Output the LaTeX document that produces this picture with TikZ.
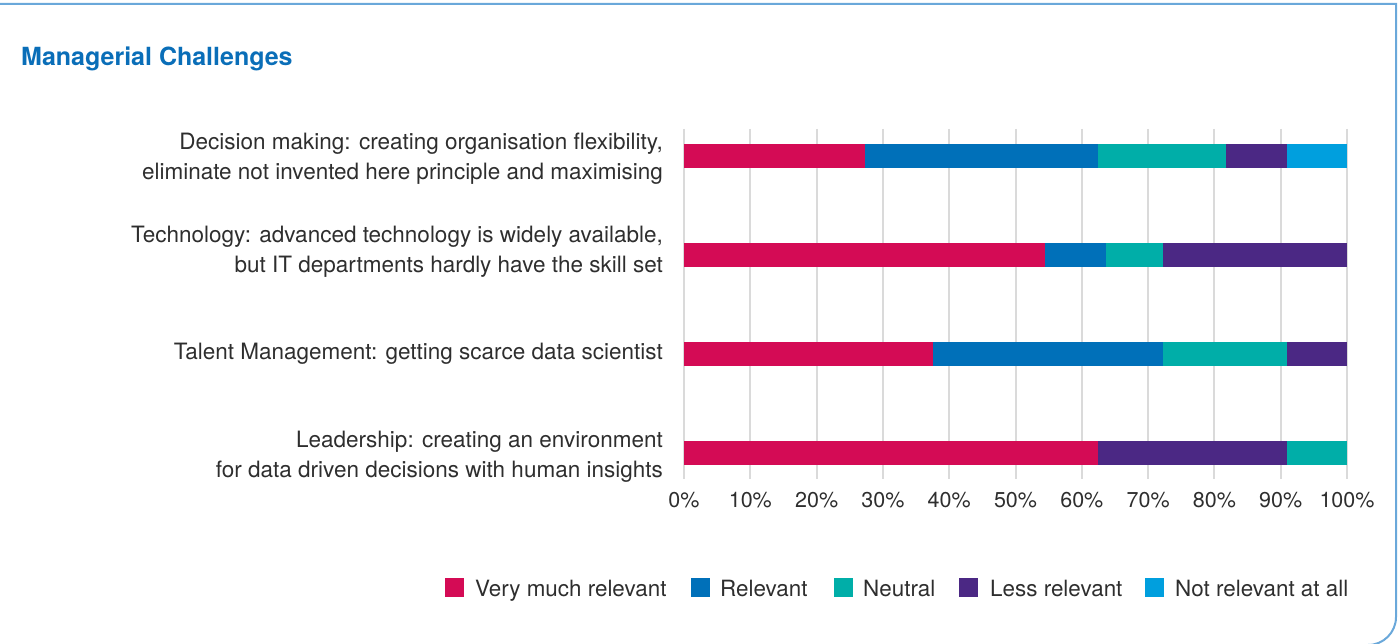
\documentclass[tikz,border=0pt]{standalone}
\usepackage{fontspec}
\setmainfont{TeX Gyre Heros}
\definecolor{vpink}{HTML}{D40B55}
\definecolor{vblue}{HTML}{0070B9}
\definecolor{vteal}{HTML}{00AEA8}
\definecolor{vpurple}{HTML}{4B2884}
\definecolor{vlight}{HTML}{009FDE}
\definecolor{frame}{HTML}{6AA8DA}
\definecolor{titleblue}{HTML}{0A6EB8}
\definecolor{txt}{HTML}{2E2E2E}
\definecolor{gridc}{HTML}{DADADA}
\tikzset{
  framestyle/.style={draw=frame,line width=2pt},
  gridline/.style={draw=gridc,line width=2pt},
  lbl/.style={anchor=east,align=right,text=txt,font=\fontsize{22.5}{30}\selectfont,inner sep=0pt},
  ticklbl/.style={anchor=base,text=txt,font=\fontsize{21.5}{25}\selectfont,inner sep=0pt},
  legtxt/.style={anchor=base west,text=txt,font=\fontsize{22.4}{25}\selectfont,inner sep=0pt},
  legbox/.style={minimum width=19pt,minimum height=19pt,inner sep=0pt,anchor=west},
}
\newcommand{\segm}[4]{\fill[#4] (684+6.63*#2,#1-12) rectangle (684+6.63*#3,#1+12);}
\begin{document}
\begin{tikzpicture}[x=1pt,y=-1pt]
\useasboundingbox (0,0) rectangle (1399,644);
% frame
\draw[framestyle] (0,4) -- (1396,4) [rounded corners=28pt] -- (1396,645) -- (1200,645);
% title
\node[anchor=base west,inner sep=0pt,text=titleblue,font=\fontsize{25}{30}\selectfont\bfseries] (title) at (21,66) {Managerial Challenges};
% grid and ticks
\foreach \k in {0,...,10}{
  \draw[gridline] (684+66.3*\k,129) -- (684+66.3*\k,479);
  \pgfmathtruncatemacro{\pc}{10*\k}
  \node[ticklbl] (tick\k) at (684+66.3*\k,507) {\pc\%};
}
% bars
\segm{156}{0}{27.3}{vpink}
\segm{156}{27.3}{62.5}{vblue}
\segm{156}{62.5}{81.8}{vteal}
\segm{156}{81.8}{90.9}{vpurple}
\segm{156}{90.9}{100}{vlight}
\segm{255}{0}{54.5}{vpink}
\segm{255}{54.5}{63.6}{vblue}
\segm{255}{63.6}{72.2}{vteal}
\segm{255}{72.2}{100}{vpurple}
\segm{354}{0}{37.5}{vpink}
\segm{354}{37.5}{72.2}{vblue}
\segm{354}{72.2}{90.9}{vteal}
\segm{354}{90.9}{100}{vpurple}
\segm{453}{0}{62.5}{vpink}
\segm{453}{62.5}{90.9}{vpurple}
\segm{453}{90.9}{100}{vteal}
% labels
\node[lbl] (l1) at (663,159) {Decision making: creating organisation flexibility,\\eliminate not invented here principle and maximising};
\node[lbl] (l2) at (663,252) {Technology: advanced technology is widely available,\\but IT departments hardly have the skill set};
\node[lbl] (l3) at (663,354) {Talent Management: getting scarce data scientist};
\node[lbl] (l4) at (663,457) {Leadership: creating an environment\\for data driven decisions with human insights};
% legend
\node[legbox,fill=vpink] (k1) at (445,587.5) {};
\node[legtxt] (t1) at (475,596) {Very much relevant};
\node[legbox,fill=vblue] (k2) at (691,587.5) {};
\node[legtxt] (t2) at (720,596) {Relevant};
\node[legbox,fill=vteal] (k3) at (834,587.5) {};
\node[legtxt] (t3) at (863,596) {Neutral};
\node[legbox,fill=vpurple] (k4) at (959,587.5) {};
\node[legtxt] (t4) at (990,596) {Less relevant};
\node[legbox,fill=vlight] (k5) at (1145,587.5) {};
\node[legtxt] (t5) at (1175,596) {Not relevant at all};
\end{tikzpicture}
\end{document}
